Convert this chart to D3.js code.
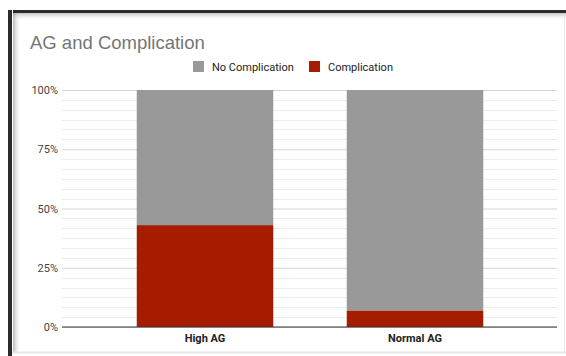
<!DOCTYPE html>
<html>
<head>
<meta charset="utf-8">
<script src="https://cdn.jsdelivr.net/npm/d3@7"></script>
<style>
  body { margin: 0; background: #fff; }
  svg { display: block; font-family: Roboto, Arial, sans-serif; }
</style>
</head>
<body>
<svg></svg>
<script>
const svgWidth = 566
const svgHeight = 356

const categories = ["High AG", "Normal AG"]
const seriesNames = ["No Complication", "Complication"]
const noComplication = [57, 93]
const complication = [43, 7]
const yTicks = [0, 25, 50, 75, 100]
const colors = ["#999999", "#a61c00"]

const plot = { left: 62, right: 557, top: 90, bottom: 327 }

const svg = d3.select("svg")
  .attr("width", svgWidth)
  .attr("height", svgHeight)

// card frame: dark top/left edge, soft shadow inside
const defs = svg.append("defs")
const gl = defs.append("linearGradient").attr("id", "shL")
gl.append("stop").attr("offset", 0).attr("stop-color", "#888").attr("stop-opacity", 0.6)
gl.append("stop").attr("offset", 1).attr("stop-color", "#fff").attr("stop-opacity", 0)
const gt = defs.append("linearGradient").attr("id", "shT").attr("x2", 0).attr("y2", 1)
gt.append("stop").attr("offset", 0).attr("stop-color", "#888").attr("stop-opacity", 0.5)
gt.append("stop").attr("offset", 1).attr("stop-color", "#fff").attr("stop-opacity", 0)

svg.append("rect").attr("x", 13).attr("y", 13).attr("width", 8).attr("height", 340).attr("fill", "url(#shL)")
svg.append("rect").attr("x", 13).attr("y", 13).attr("width", 553).attr("height", 8).attr("fill", "url(#shT)")
svg.append("line").attr("x1", 13).attr("x2", 566).attr("y1", 11.5).attr("y2", 11.5)
  .attr("stroke", "#2b2b2b").attr("stroke-width", 3)
svg.append("line").attr("x1", 10).attr("x2", 10).attr("y1", 10).attr("y2", 356)
  .attr("stroke", "#2b2b2b").attr("stroke-width", 4)
svg.append("line").attr("x1", 564.5).attr("x2", 564.5).attr("y1", 14).attr("y2", 352)
  .attr("stroke", "#e6e6e6").attr("stroke-width", 1)
svg.append("line").attr("x1", 12).attr("x2", 566).attr("y1", 352.5).attr("y2", 352.5)
  .attr("stroke", "#e6e6e6").attr("stroke-width", 2)

svg.append("text")
  .text("AG and Complication")
  .attr("x", 30)
  .attr("y", 49)
  .attr("font-size", 18.5)
  .attr("font-family", "'Liberation Sans', Arial, sans-serif")
  .attr("fill", "#757575")

const yScale = d3.scaleLinear()
  .domain([0, 100])
  .range([plot.bottom, plot.top])

const xScale = d3.scaleBand()
  .domain(categories)
  .range([100, 520])
  .paddingInner(0.35)
  .paddingOuter(0.175)

// minor gridlines
const minor = d3.range(0, 101, 25 / 6).filter(v => Math.abs(v % 25) > 0.01 && Math.abs(v % 25 - 25) > 0.01)
svg.append("g").selectAll("line")
  .data(minor)
  .enter()
  .append("line")
  .attr("x1", plot.left).attr("x2", plot.right)
  .attr("y1", d => Math.round(yScale(d)) + 0.5)
  .attr("y2", d => Math.round(yScale(d)) + 0.5)
  .attr("stroke", "#ececec")

// major gridlines + tick labels
const yAxis = svg.append("g")
  .attr("transform", `translate(${plot.left},0)`)
  .call(d3.axisLeft(yScale).tickValues(yTicks).tickSize(-(plot.right - plot.left)).tickFormat(d => d + "%"))
yAxis.select(".domain").remove()
yAxis.selectAll(".tick line").attr("stroke", "#d4d4d4")
yAxis.selectAll(".tick text")
  .attr("x", -4)
  .attr("font-size", 11)
  .attr("fill", "#444")
  .attr("font-family", "Roboto, Arial, sans-serif")

// stacked bars
const rows = categories.map((c, i) => ({ cat: c, "Complication": complication[i], "No Complication": noComplication[i] }))
const stacked = d3.stack().keys(["Complication", "No Complication"])(rows)

svg.append("g").selectAll("g")
  .data(stacked)
  .enter()
  .append("g")
  .attr("fill", d => colors[seriesNames.indexOf(d.key)])
  .selectAll("rect")
  .data(d => d)
  .enter()
  .append("rect")
  .attr("x", d => xScale(d.data.cat))
  .attr("width", xScale.bandwidth())
  .attr("y", d => yScale(d[1]))
  .attr("height", d => yScale(d[0]) - yScale(d[1]))

// baseline
svg.append("line")
  .attr("x1", plot.left).attr("x2", plot.right)
  .attr("y1", yScale(0)).attr("y2", yScale(0))
  .attr("stroke", "#333").attr("stroke-width", 1)

// x labels
const xAxis = svg.append("g")
  .attr("transform", `translate(0,${plot.bottom})`)
  .call(d3.axisBottom(xScale).tickSize(0).tickPadding(7))
xAxis.select(".domain").remove()
xAxis.selectAll(".tick text")
  .attr("font-size", 11)
  .attr("font-weight", "bold")
  .attr("fill", "#222")
  .attr("font-family", "Roboto, Arial, sans-serif")

// legend
const legendItems = [
  { name: "No Complication", x: 193, color: colors[0] },
  { name: "Complication", x: 309, color: colors[1] }
]
const legend = svg.append("g")
legend.selectAll("rect")
  .data(legendItems)
  .enter()
  .append("rect")
  .attr("x", d => d.x)
  .attr("y", 61)
  .attr("width", 11)
  .attr("height", 11)
  .attr("fill", d => d.color)
legend.selectAll("text")
  .data(legendItems)
  .enter()
  .append("text")
  .attr("x", d => d.x + 19)
  .attr("y", 70.5)
  .attr("font-size", 11)
  .attr("fill", "#222")
  .text(d => d.name)
</script>
</body>
</html>
